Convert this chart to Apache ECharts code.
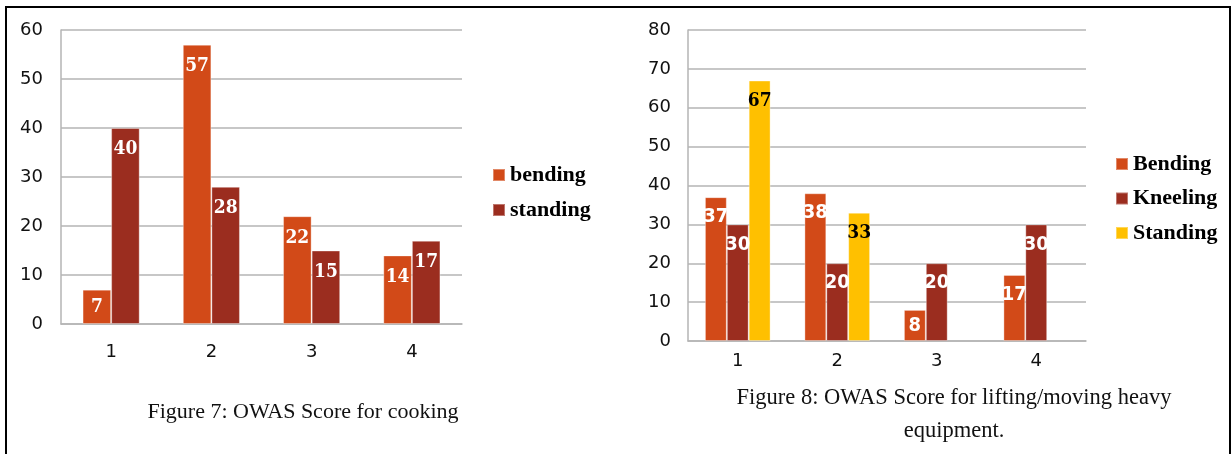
<!DOCTYPE html>
<html>
<head>
<meta charset="utf-8">
<script src="https://cdn.jsdelivr.net/npm/echarts@6/dist/echarts.min.js"></script>
<style>html,body{margin:0;padding:0;background:#fff;}#c{width:1232px;height:454px;}</style>
</head>
<body>
<div id="c"></div>
<script>
const categories = ['1', '2', '3', '4'];
const cookingBending = [7, 57, 22, 14];
const cookingStanding = [40, 28, 15, 17];
const liftBending = [37, 38, 8, 17];
const liftKneeling = [30, 20, 20, 30];
const liftStanding = [67, 33, null, null];
const cookingNames = ['bending', 'standing'];
const liftNames = ['Bending', 'Kneeling', 'Standing'];
const caption7 = 'Figure 7: OWAS Score for cooking';
const caption8a = 'Figure 8: OWAS Score for lifting/moving heavy';
const caption8b = 'equipment.';

const C_BEND = '#D24A18', C_STAND = '#9B2D1F', C_YEL = '#FFC000';

function mk(values, threshold) {
  return values.map(v => v == null ? '-' : {
    value: v,
    label: { position: v < threshold ? 'inside' : 'insideTop' }
  });
}

const chart = echarts.init(document.getElementById('c'), null, { renderer: 'canvas' });

function xAx(gi, margin) {
  return {
    type: 'category', gridIndex: gi, data: categories,
    axisTick: { show: false },
    axisLine: { lineStyle: { color: '#B5B5B5', width: 1.5 } },
    axisLabel: { color: '#111', fontFamily: 'DejaVu Sans', fontSize: 18, margin: margin }
  };
}
function yAx(gi, max, margin) {
  return {
    type: 'value', gridIndex: gi, min: 0, max: max, interval: 10,
    axisLine: { show: true, lineStyle: { color: '#B5B5B5', width: 1.5 } },
    axisTick: { show: false },
    splitLine: { lineStyle: { color: '#B5B5B5', width: 1.5 } },
    axisLabel: { color: '#111', fontFamily: 'DejaVu Sans', fontSize: 18, margin: margin }
  };
}

const lblL = { show: true, color: '#fff', fontFamily: '"DejaVu Serif Condensed", "DejaVu Serif"', fontWeight: 'bold', fontSize: 19, distance: 12 };
const lblR = { show: true, color: '#fff', fontFamily: '"DejaVu Sans Condensed", "DejaVu Sans"', fontWeight: 'bold', fontSize: 20, distance: 10 };
const border = { borderColor: 'rgba(255,255,255,0.35)', borderWidth: 1 };

const option = {
  animation: false,
  grid: [
    { left: 61, right: 770, top: 30, bottom: 130 },
    { left: 688, right: 146, top: 30, bottom: 113 }
  ],
  xAxis: [xAx(0, 19), xAx(1, 11)],
  yAxis: [yAx(0, 60, 18), yAx(1, 80, 17)],
  legend: [
    {
      orient: 'vertical', left: 492, top: 164, padding: 0, itemWidth: 12, itemHeight: 12, itemGap: 13,
      icon: 'rect', data: cookingNames,
      textStyle: { fontFamily: 'Liberation Serif', fontWeight: 'bold', fontSize: 22, color: '#000' }
    },
    {
      orient: 'vertical', left: 1115, top: 153, padding: 0, itemWidth: 12, itemHeight: 12, itemGap: 12.5,
      icon: 'rect', data: liftNames,
      textStyle: { fontFamily: 'Liberation Serif', fontWeight: 'bold', fontSize: 22, color: '#000' }
    }
  ],
  series: [
    { name: cookingNames[0], type: 'bar', xAxisIndex: 0, yAxisIndex: 0, data: mk(cookingBending, 10),
      barGap: '0%', barCategoryGap: '43%', itemStyle: Object.assign({ color: C_BEND }, border), label: lblL },
    { name: cookingNames[1], type: 'bar', xAxisIndex: 0, yAxisIndex: 0, data: mk(cookingStanding, 10),
      barGap: '0%', barCategoryGap: '43%', itemStyle: Object.assign({ color: C_STAND }, border), label: lblL },
    { name: liftNames[0], type: 'bar', xAxisIndex: 1, yAxisIndex: 1, data: mk(liftBending, 10),
      barGap: '0%', barCategoryGap: '34%', itemStyle: Object.assign({ color: C_BEND }, border), label: lblR },
    { name: liftNames[1], type: 'bar', xAxisIndex: 1, yAxisIndex: 1, data: mk(liftKneeling, 10),
      barGap: '0%', barCategoryGap: '34%', itemStyle: Object.assign({ color: C_STAND }, border), label: lblR },
    { name: liftNames[2], type: 'bar', xAxisIndex: 1, yAxisIndex: 1, data: mk(liftStanding, 10),
      barGap: '0%', barCategoryGap: '34%', itemStyle: Object.assign({ color: C_YEL }, border),
      label: Object.assign({}, lblL, { color: '#000', distance: 11 }) }
  ],
  graphic: [
    { type: 'rect', shape: { x: 6, y: 7, width: 1224, height: 470 }, style: { fill: 'none', stroke: '#000', lineWidth: 2 }, silent: true },
    { type: 'text', x: 303, y: 412, style: { text: caption7, fill: '#111', font: '22px "Liberation Serif"', textAlign: 'center', textVerticalAlign: 'middle' } },
    { type: 'text', x: 954, y: 398, style: { text: caption8a, fill: '#111', font: '22.5px "Liberation Serif"', textAlign: 'center', textVerticalAlign: 'middle' } },
    { type: 'text', x: 954, y: 431, style: { text: caption8b, fill: '#111', font: '22.5px "Liberation Serif"', textAlign: 'center', textVerticalAlign: 'middle' } }
  ]
};
chart.setOption(option);
</script>
</body>
</html>
